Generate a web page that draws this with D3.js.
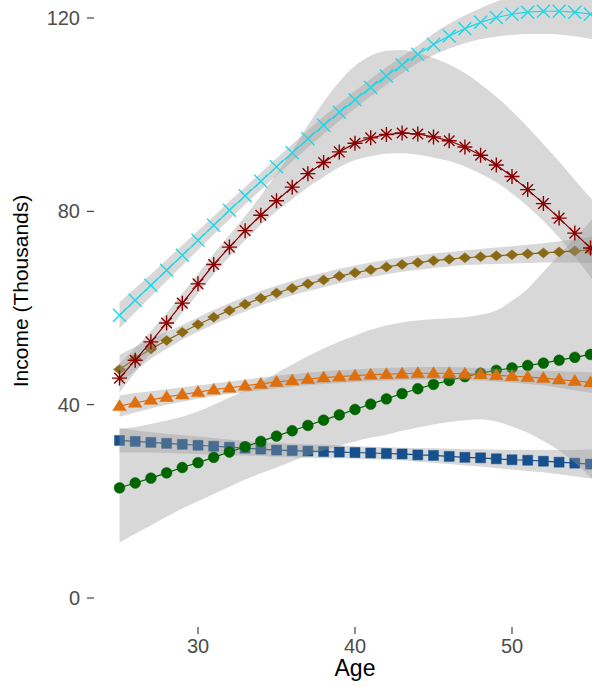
<!DOCTYPE html>
<html>
<head>
<meta charset="utf-8">
<script src="https://cdnjs.cloudflare.com/ajax/libs/d3/7.8.5/d3.min.js"></script>
<style>
	body { margin: 0; background: #fff; }
	svg { display: block; font-family: "Liberation Sans", Arial, sans-serif; }
</style>
</head>
<body>
<svg width="592" height="687"></svg>
<script>

// ages shown on the x axis (one point per year)
const ages = [25,26,27,28,29,30,31,32,33,34,35,36,37,38,39,40,41,42,43,44,45,46,47,48,49,50,51,52,53,54,55,56];

// fitted income per series (thousands)
const blueFit   = [32.6,32.4,32.2,32,31.8,31.6,31.4,31.2,31,30.8,30.6,30.5,30.4,30.3,30.2,30.1,30,29.9,29.8,29.6,29.5,29.3,29.1,29,28.8,28.6,28.5,28.3,28.1,27.9,27.7,27.5];
const blueLow   = [30.1,30.1,30.1,30,29.9,29.8,29.7,29.6,29.5,29.4,29.2,29.1,29,28.9,28.9,28.8,28.7,28.6,28.5,28.2,28,27.7,27.4,27.2,26.9,26.6,26.3,26,25.6,25.2,24.7,24.2];
const blueHigh  = [35.1,34.7,34.3,34,33.7,33.4,33.1,32.8,32.5,32.2,32,31.9,31.8,31.7,31.6,31.4,31.3,31.2,31.1,31,31,30.9,30.8,30.8,30.7,30.6,30.6,30.6,30.6,30.6,30.7,30.8];

const greenFit  = [22.8,23.8,24.8,25.9,27,28,29.1,30.2,31.3,32.4,33.5,34.6,35.7,36.8,37.9,39,40.1,41.2,42.3,43.3,44.2,45,45.8,46.5,47.1,47.6,48.1,48.6,49.2,49.8,50.4,51];
const greenLow  = [11.5,13.3,15,16.8,18.5,20,21.5,23,24.5,25.8,27,28.3,29.5,30.5,31.5,32.4,33.2,33.8,34.6,35.3,35.9,36.4,36.8,37,36.5,35.5,34.2,32.5,30.5,28,25,22];
const greenHigh = [35,35.4,36,36.7,37.5,38.6,40,41.5,43,44.7,46.5,48.3,50,51.6,53,54.3,55.5,56.4,57,57.4,57.7,57.9,58.1,58.6,59.5,61.5,64,67.5,71,74.5,78,82];

const orangeFit  = [39.7,40.4,41,41.6,42.1,42.6,43.1,43.5,43.9,44.3,44.7,45,45.3,45.6,45.8,46,46.2,46.3,46.4,46.5,46.5,46.5,46.4,46.3,46.1,45.9,45.7,45.5,45.2,44.9,44.6,44.3];
const orangeLow  = [37.5,38.4,39.2,40,40.6,41.2,41.8,42.2,42.6,43,43.4,43.7,44,44.3,44.5,44.7,44.9,45,45.1,45.2,45.2,45.2,45.1,45,44.8,44.6,44.3,44,43.5,43,42.5,41.9];
const orangeHigh = [41.9,42.4,42.8,43.2,43.6,44,44.4,44.8,45.2,45.6,46,46.3,46.6,46.9,47.1,47.3,47.5,47.6,47.7,47.8,47.8,47.8,47.7,47.6,47.4,47.2,47.1,47,46.9,46.8,46.7,46.7];

const brownFit  = [47.3,49.5,51.5,53.3,55,56.6,58.1,59.5,60.8,62,63.1,64.1,65,65.8,66.6,67.3,67.9,68.5,69,69.4,69.8,70.1,70.4,70.6,70.8,71,71.2,71.4,71.6,71.8,72,72.2];
const brownLow  = [44.3,47,49.5,51.5,53.5,55.1,56.6,58,59.3,60.5,61.6,62.6,63.5,64.3,65.1,65.8,66.4,67,67.5,67.9,68.3,68.6,68.9,69,69.1,69.2,69.3,69.4,69.4,69.4,69.3,69.2];
const brownHigh = [50.3,52,53.5,55.1,56.5,58.1,59.6,61,62.3,63.5,64.6,65.6,66.5,67.3,68.1,68.8,69.4,70,70.5,70.9,71.3,71.6,71.9,72.2,72.5,72.8,73.1,73.4,73.8,74.2,74.7,75.2];

const redFit  = [45.5,49.2,53,56.9,61,65,69,72.6,76,79.2,82.2,85,87.8,90.1,92.3,94.1,95.2,95.9,96.2,96,95.4,94.6,93.3,91.6,89.6,87.2,84.5,81.6,78.6,75.5,72.4,69.2];
const redLow  = [42.5,46.7,50.8,54.9,59,63,67,70.6,74,77.2,80,82.5,85,87.1,89.1,90.6,91.4,91.9,92,91.7,91.1,90.4,89.3,87.8,86,83.7,81,78,74.6,70.7,66.4,61.7];
const redHigh = [48.5,51.7,55.2,58.9,63,67,71.2,75.1,79,83.2,87.7,92.5,97.8,102.6,106.8,110.1,112.2,113.2,113.4,112.8,111.7,110.4,108.6,106.3,103.7,100.7,97.4,93.9,90.3,86.5,82.8,79];

const cyanFit  = [58.5,61.6,64.7,67.8,70.9,74,77.1,80.2,83.2,86.2,89.2,92.1,95,97.8,100.5,103.1,105.6,108,110.3,112.5,114.5,116.3,117.8,119.1,120.1,120.8,121.2,121.4,121.4,121.2,120.8,120.3];
const cyanLow  = [55.8,59.1,62.4,65.6,68.8,72,75.2,78.3,81.4,84.4,87.4,90.3,93.2,96,98.7,101.3,103.8,106.2,108.5,110.7,112.3,113.7,114.8,115.6,116.1,116.5,116.7,116.7,116.6,116.2,115.7,115.1];
const cyanHigh = [61.2,64.1,67,70,73,76,79,82.1,85,88,91,93.9,96.8,99.6,102.3,104.9,107.4,109.8,112.1,114.3,116.8,118.8,120.5,122,123.4,124.6,125.5,126.2,126.6,126.8,127,127];

const yTicks = [0, 40, 80, 120];
const xTicks = [30, 40, 50];

// drawing order matters: later ribbons wash over earlier markers
const series = [
	{ fit: blueFit,   low: blueLow,   high: blueHigh,   color: "#17508d", shape: "square" },
	{ fit: greenFit,  low: greenLow,  high: greenHigh,  color: "#006400", shape: "circle" },
	{ fit: orangeFit, low: orangeLow, high: orangeHigh, color: "#df6f0d", shape: "triangle" },
	{ fit: brownFit,  low: brownLow,  high: brownHigh,  color: "#8b6914", shape: "diamond" },
	{ fit: redFit,    low: redLow,    high: redHigh,    color: "#8b0000", shape: "asterisk" },
	{ fit: cyanFit,   low: cyanLow,   high: cyanHigh,   color: "#1fd8e8", shape: "cross" }
];

const svg = d3.select("svg");

const x = d3.scaleLinear().domain([30, 50]).range([198, 512]);
const y = d3.scaleLinear().domain([0, 120]).range([598, 18]);

const band = d3.area()
	.x(d => x(d.age))
	.y0(d => y(d.low))
	.y1(d => y(d.high))
	.curve(d3.curveMonotoneX);

const line = d3.line()
	.x(d => x(d.age))
	.y(d => y(d.v));

//marker paths, centered on 0,0
function markerPath(shape) {
	if (shape == "square") return d3.symbol(d3.symbolSquare, 100)();
	if (shape == "circle") return d3.symbol(d3.symbolCircle, 92)();
	if (shape == "triangle") return "M0,-6.5L6.8,4.5L-6.8,4.5Z";
	if (shape == "diamond") return "M0,-5L6,0L0,5L-6,0Z";
	if (shape == "cross") {
		const r = 6.5;
		return `M${-r},${-r}L${r},${r}M${-r},${r}L${r},${-r}`;
	}
	if (shape == "asterisk") {
		const r = 7.5, d = 5.3;
		return `M${-r},0L${r},0M0,${-r}L0,${r}M${-d},${-d}L${d},${d}M${-d},${d}L${d},${-d}`;
	}
}

series.forEach(s => {
	const rows = ages.map((a, i) => ({ age: a, v: s.fit[i], low: s.low[i], high: s.high[i] }));
	const g = svg.append("g");

	//confidence ribbon
	g.append("path")
		.datum(rows)
		.attr("d", band)
		.attr("fill", "#999999")
		.attr("fill-opacity", 0.38);

	//fitted line
	g.append("path")
		.datum(rows)
		.attr("d", line)
		.attr("fill", "none")
		.attr("stroke", s.color)
		.attr("stroke-width", 1.2);

	//markers
	const stroked = (s.shape == "cross" || s.shape == "asterisk");
	g.selectAll("path.pt")
		.data(rows)
		.join("path")
		.attr("class", "pt")
		.attr("transform", d => `translate(${x(d.age)},${y(d.v)})`)
		.attr("d", markerPath(s.shape))
		.attr("fill", stroked ? "none" : s.color)
		.attr("stroke", s.color)
		.attr("stroke-width", stroked ? 1.4 : 0.5);
});

//y axis ticks and labels
const yAxis = svg.append("g");
yAxis.selectAll("line")
	.data(yTicks)
	.join("line")
	.attr("x1", 87).attr("x2", 94)
	.attr("y1", d => y(d)).attr("y2", d => y(d))
	.attr("stroke", "#333333")
	.attr("stroke-width", 1.1);
yAxis.selectAll("text")
	.data(yTicks)
	.join("text")
	.attr("x", 80)
	.attr("y", d => y(d) + 7)
	.attr("text-anchor", "end")
	.attr("font-size", 20)
	.attr("fill", "#4d4d4d")
	.text(d => d);

//x axis ticks and labels
const xAxis = svg.append("g");
xAxis.selectAll("line")
	.data(xTicks)
	.join("line")
	.attr("x1", d => x(d)).attr("x2", d => x(d))
	.attr("y1", 627).attr("y2", 634)
	.attr("stroke", "#333333")
	.attr("stroke-width", 1.1);
xAxis.selectAll("text")
	.data(xTicks)
	.join("text")
	.attr("x", d => x(d))
	.attr("y", 653)
	.attr("text-anchor", "middle")
	.attr("font-size", 20)
	.attr("fill", "#4d4d4d")
	.text(d => d);

//axis titles
svg.append("text")
	.attr("x", x(40))
	.attr("y", 676)
	.attr("text-anchor", "middle")
	.attr("font-size", 23)
	.attr("fill", "#000")
	.text("Age");

svg.append("text")
	.attr("transform", "translate(28,291) rotate(-90)")
	.attr("text-anchor", "middle")
	.attr("font-size", 21)
	.attr("fill", "#000")
	.text("Income (Thousands)");

</script>
</body>
</html>
